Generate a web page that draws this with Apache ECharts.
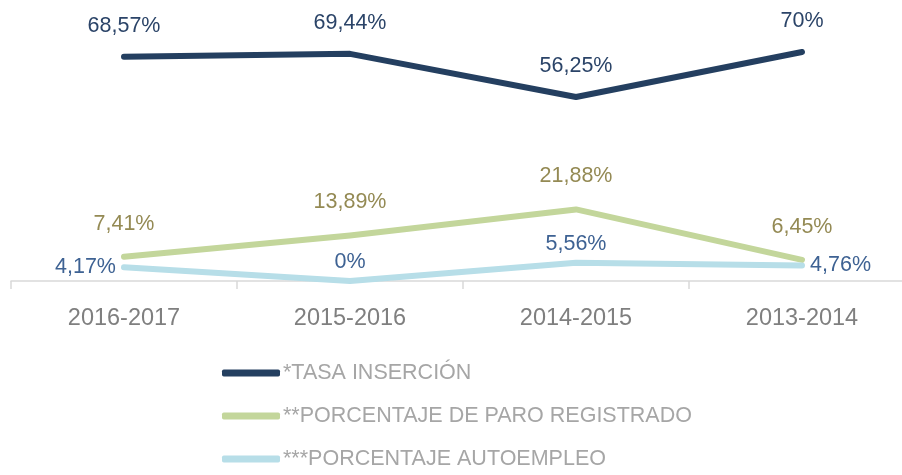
<!DOCTYPE html>
<html>
<head>
<meta charset="UTF-8"/>
<title>Inserción</title>
<script src="https://cdn.jsdelivr.net/npm/echarts@6/dist/echarts.min.js"></script>
<style>
  html, body { margin: 0; padding: 0; background: #fff; }
  #main { width: 902px; height: 475px; }
</style>
</head>
<body>
<div id="main"></div>
<script type="text/javascript">
// datos
var cursos = ['2016-2017', '2015-2016', '2014-2015', '2013-2014'];
var tasaInsercion = [68.57, 69.44, 56.25, 70];
var paroRegistrado = [7.41, 13.89, 21.88, 6.45];
var autoempleo = [4.17, 0, 5.56, 4.76];

var FONT = "'Liberation Sans', Arial, sans-serif";

// posicion de las etiquetas de la serie autoempleo
var posAuto = ['left', 'top', 'top', 'right'];

function pct(p) {
    return String(p.value).replace('.', ',') + '%';
}

var chart = echarts.init(document.getElementById('main'));

var option = {
    animation: false,
    grid: { left: 11, width: 904, top: 52, bottom: 194, outerBoundsMode: 'none', containLabel: false },
    xAxis: {
        type: 'category',
        data: cursos,
        boundaryGap: true,
        axisLine: { lineStyle: { color: '#d9d9d9', width: 1.5 } },
        axisTick: { show: true, length: 8, lineStyle: { color: '#d9d9d9', width: 1.5 } },
        axisLabel: { color: '#7f7f7f', fontSize: 23.5, fontFamily: FONT, margin: 26 }
    },
    yAxis: {
        type: 'value', min: 0, max: 70, show: false,
        splitLine: { show: false }
    },
    legend: {
        orient: 'vertical',
        left: 222,
        top: 362,
        padding: 0,
        itemWidth: 58,
        itemHeight: 7,
        itemGap: 21,
        icon: 'roundRect',
        textStyle: { color: '#a6a6a6', fontSize: 21.5, lineHeight: 22, fontFamily: FONT, padding: [0, 0, 0, -2] },
        data: ['*TASA INSERCIÓN', '**PORCENTAJE DE PARO REGISTRADO', '***PORCENTAJE AUTOEMPLEO']
    },
    series: [
        {
            name: '*TASA INSERCIÓN',
            type: 'line',
            data: tasaInsercion,
            symbol: 'circle',
            symbolSize: 0.1,
            color: '#243f60',
            lineStyle: { width: 6, cap: 'round', join: 'round', color: '#243f60' },
            label: {
                show: true, position: 'top', distance: 20,
                color: '#2b4468', fontSize: 21.5, fontFamily: FONT, formatter: pct
            }
        },
        {
            name: '**PORCENTAJE DE PARO REGISTRADO',
            type: 'line',
            data: paroRegistrado,
            symbol: 'circle',
            symbolSize: 0.1,
            color: '#c3d69b',
            lineStyle: { width: 6, cap: 'round', join: 'round', color: '#c3d69b' },
            label: {
                show: true, position: 'top', distance: 22,
                color: '#948a54', fontSize: 21.5, fontFamily: FONT, formatter: pct
            }
        },
        {
            name: '***PORCENTAJE AUTOEMPLEO',
            type: 'line',
            data: autoempleo.map(function (v, i) {
                return { value: v, label: { position: posAuto[i] } };
            }),
            symbol: 'circle',
            symbolSize: 0.1,
            color: '#b7dee8',
            lineStyle: { width: 6, cap: 'round', join: 'round', color: '#b7dee8' },
            label: {
                show: true, distance: 8,
                color: '#3e6293', fontSize: 21.5, fontFamily: FONT, formatter: pct
            }
        }
    ]
};

chart.setOption(option);
</script>
</body>
</html>
